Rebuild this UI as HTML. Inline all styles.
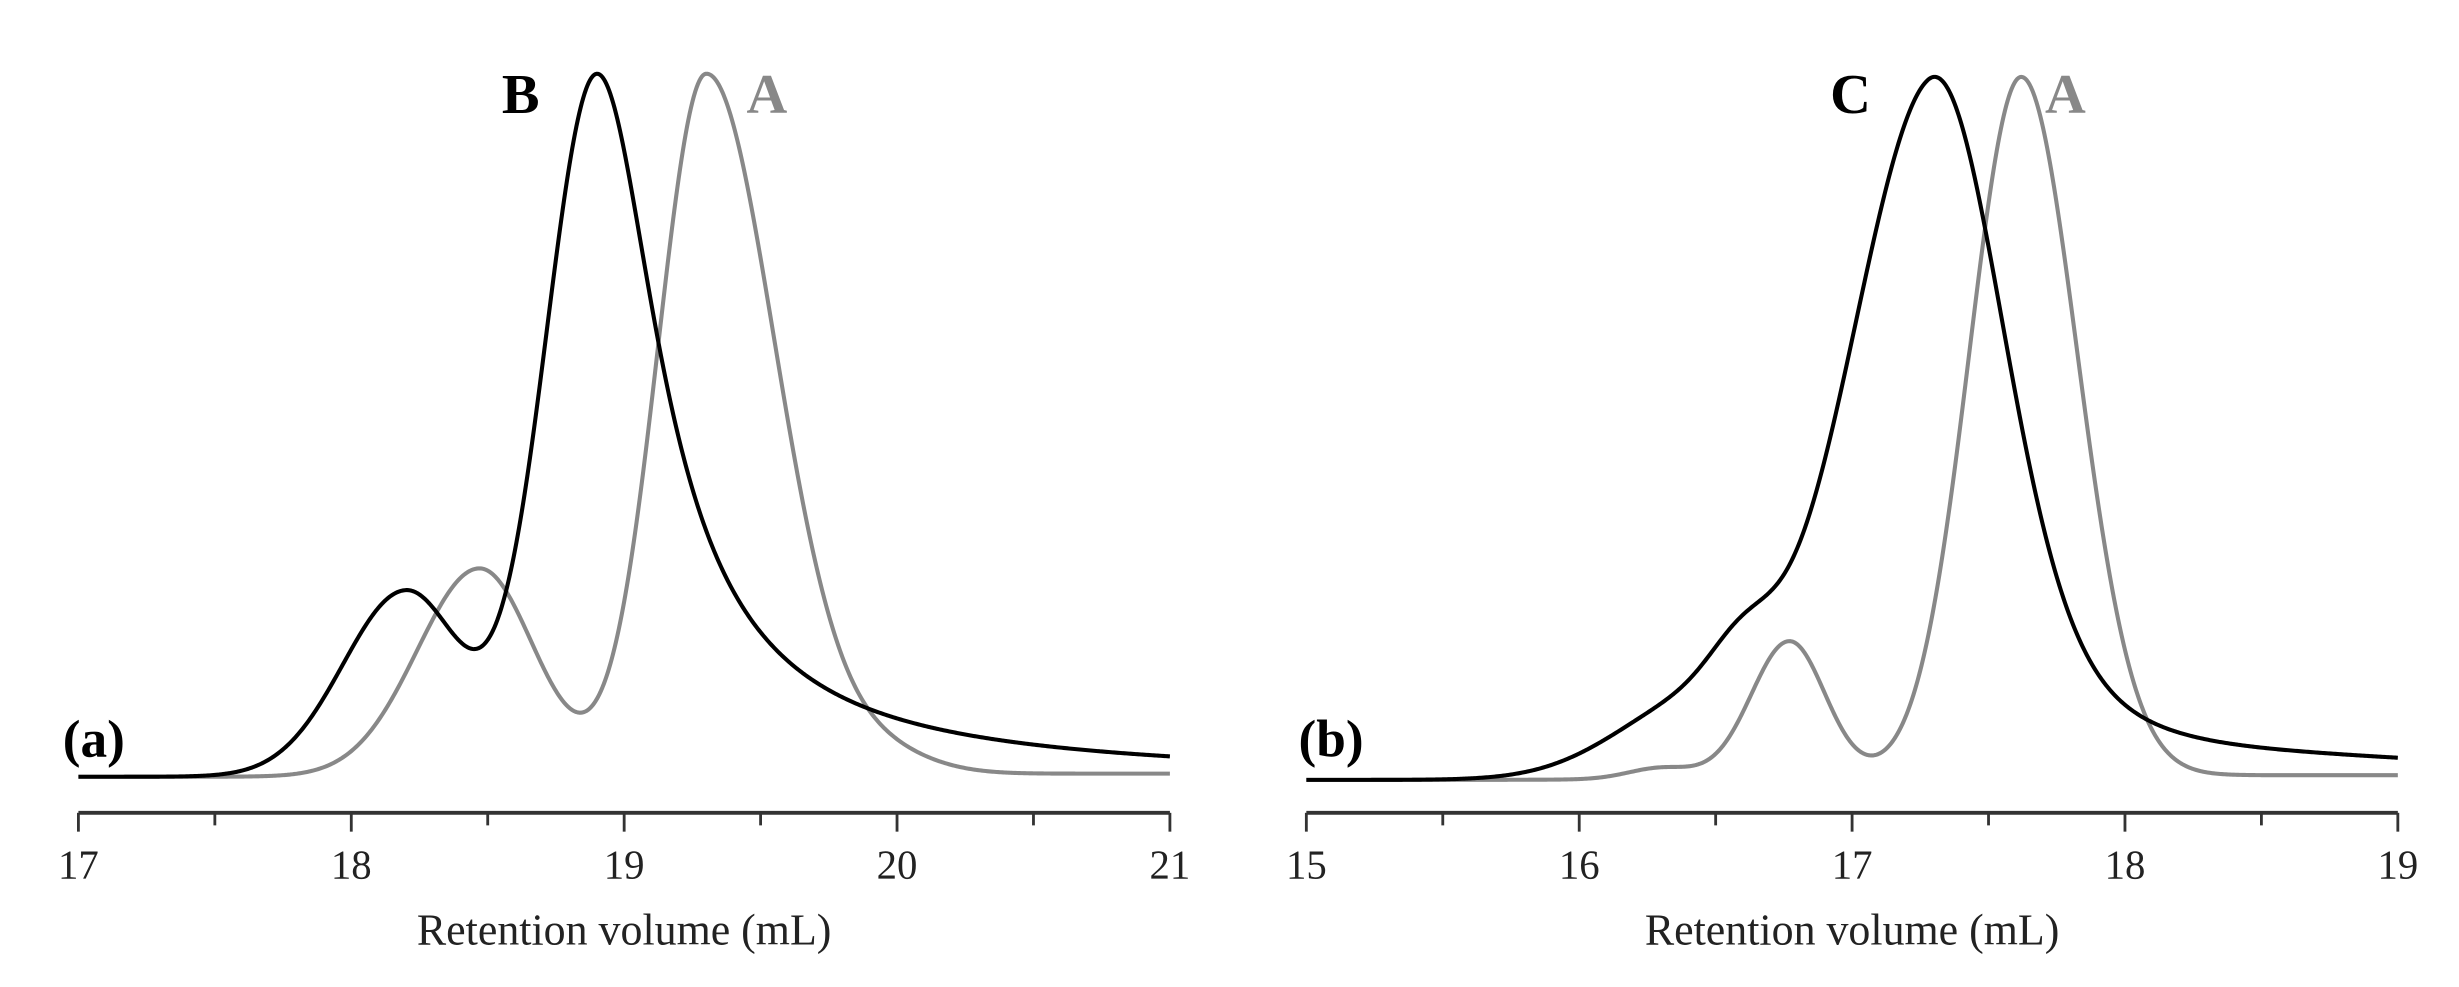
<!DOCTYPE html>
<html><head><meta charset="utf-8"><style>
html,body{margin:0;padding:0;background:#fff;}
svg{display:block;}
text{font-family:"Liberation Serif",serif;}
</style></head><body>
<svg id="s" width="2459" height="987" viewBox="0 0 1568 629" preserveAspectRatio="none" xmlns="http://www.w3.org/2000/svg">
<rect width="1568" height="629" fill="#fff"/>
<g id="g"></g>
<text x="320" y="72" font-size="36" font-weight="bold" fill="#000">B</text>
<text x="476" y="72" font-size="36" font-weight="bold" fill="#888">A</text>
<text x="40" y="482" font-size="34" font-weight="bold" fill="#000">(a)</text>
<text x="1167" y="72" font-size="36" font-weight="bold" fill="#000">C</text>
<text x="1304" y="72" font-size="36" font-weight="bold" fill="#888">A</text>
<text x="828" y="482" font-size="34" font-weight="bold" fill="#000">(b)</text>
<text x="398" y="602" font-size="28" text-anchor="middle" fill="#222">Retention volume (mL)</text>
<text x="1181" y="602" font-size="28" text-anchor="middle" fill="#222">Retention volume (mL)</text>
</svg>
<script>
var g=document.getElementById('g');var NS='http://www.w3.org/2000/svg';
function el(n,a){var e=document.createElementNS(NS,n);for(var k in a)e.setAttribute(k,a[k]);g.appendChild(e);return e;}
function A(v,m,h,sl,sr){var s=v<m?sl:sr;return h*Math.exp(-(v-m)*(v-m)/(2*s*s));}
function GL(v,m,h,sl,w){if(v<m)return h*Math.exp(-(v-m)*(v-m)/(2*sl*sl));var d=(v-m)/w;return h/(1+d*d);}
function sig(x){return 1/(1+Math.exp(-x));}
function curve(f,x0,v0,base,color){
 var pts=[];var vals=[];
 for(var i=0;i<=800;i++){var v=v0+4*i/800;vals.push(f(v));}
 var mx=Math.max.apply(null,vals);
 for(var i=0;i<=800;i++){var v=v0+4*i/800;var h=vals[i]*448/mx;pts.push((x0+(v-v0)*174).toFixed(2)+','+(base-h).toFixed(2));}
 el('polyline',{points:pts.join(' '),fill:'none',stroke:color,'stroke-width':2.6,'stroke-linejoin':'round'});
}
function axis(x0,v0){
 el('line',{x1:x0,y1:518,x2:x0+4*174,y2:518,stroke:'#333','stroke-width':2.5});
 for(var i=0;i<=8;i++){var x=x0+i*87;el('line',{x1:x,y1:518,x2:x,y2:i%2?526:530,stroke:'#333','stroke-width':1.8});}
 for(var i=0;i<=4;i++){var t=el('text',{x:x0+i*174,y:560,'font-size':26,'text-anchor':'middle',fill:'#222'});t.textContent=v0+i;}
}
axis(50,17);axis(833,15);
// panel a grey
curve(function(v){return A(v,18.47,132,0.227,0.2)+A(v,19.3,448,0.177,0.25)+A(v,19.9,15,0.3,0.2)+2*sig((v-18)/0.1);},50,17,495,'#888');
// panel a black
curve(function(v){return A(v,18.2,117,0.23,0.2)+GL(v,18.9,440,0.19,0.28)+sig((v-19.2)/0.15)*10*Math.exp(-(v-20)/1.5);},50,17,495,'#000');
// panel b grey
curve(function(v){return A(v,16.3,7,0.12,0.12)+A(v,16.77,87,0.14,0.13)+A(v,17.62,450,0.19,0.205)+3*sig((v-16.5)/0.2);},833,15,497,'#888');
// panel b black
curve(function(v){return A(v,16.45,55,0.3,0.3)+A(v,16.6,30,0.12,0.12)+A(v,17.28,420,0.3,0.25)+A(v,17.5,40,0.35,0.35)+sig((v-17.3)/0.1)*30*Math.exp(-(v-18)/1.45);},833,15,497,'#000');
</script>
</body></html>
